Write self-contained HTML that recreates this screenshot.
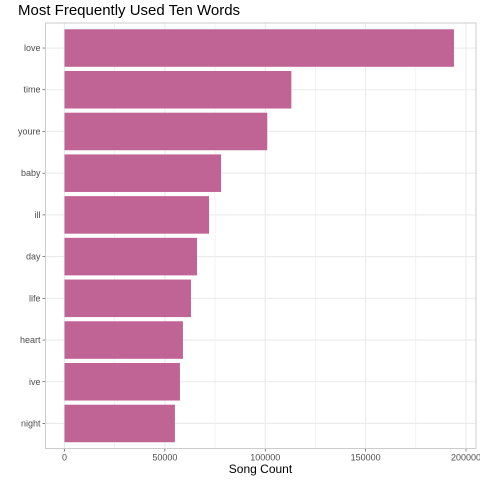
<!DOCTYPE html>
<html><head><style>body{margin:0;background:#fff}svg{font-family:"Liberation Sans",sans-serif}</style></head>
<body>
<svg id="c" width="480" height="480"></svg>
<script>
const categories=["love","time","youre","baby","ill","day","life","heart","ive","night"];
const counts=[194000,113000,101000,78000,72000,66000,63000,59000,57500,55000];
const ticks=[0,50000,100000,150000,200000];
const tickLabels=["0","50000","100000","150000","200000"];
const L=45.5,R=476,T=23,B=448.5;
const x=v=>64.5+v*(401.5/200000);
const step=(B-T)/(categories.length-1+1.2);
const y=i=>T+step*(0.6+i);
const svg=document.getElementById('c');const NS="http://www.w3.org/2000/svg";
function mk(t,a,p){const e=document.createElementNS(NS,t);for(const k in a)e.setAttribute(k,a[k]);(p||svg).appendChild(e);return e;}
const minor=[25000,75000,125000,175000];
minor.forEach(v=>{const l=mk('line',{x1:x(v),x2:x(v),y1:T,y2:B,stroke:'#ebebeb','stroke-width':0.6});});
ticks.forEach((v,i)=>{const l=mk('line',{x1:x(v),x2:x(v),y1:T,y2:B,stroke:'#ebebeb','stroke-width':1.1});
const tk=mk('line',{x1:x(v),x2:x(v),y1:B,y2:B+3,stroke:'#333','stroke-width':0.6});
const t=mk('text',{x:x(v),y:B+12,'font-size':9,fill:'#4d4d4d','text-anchor':'middle'});t.textContent=tickLabels[i];});
categories.forEach((c,i)=>{const l=mk('line',{x1:L,x2:R,y1:y(i),y2:y(i),stroke:'#ebebeb','stroke-width':1.1});});
categories.forEach((c,i)=>{const h=step*0.9;
const r=mk('rect',{x:x(0),y:y(i)-h/2,width:x(counts[i])-x(0),height:h,fill:'#c06395'});
const tk=mk('line',{x1:L-3,x2:L,y1:y(i),y2:y(i),stroke:'#333','stroke-width':0.6});
const t=mk('text',{x:L-5,y:y(i)+3,'font-size':9,fill:'#4d4d4d','text-anchor':'end'});t.textContent=c;});
const bd=mk('rect',{x:L,y:T,width:R-L,height:B-T,fill:'none',stroke:'#cccccc','stroke-width':1});
</script>
<div style="position:absolute;left:18px;top:2px;font:15px 'Liberation Sans',sans-serif;color:#000">Most Frequently Used Ten Words</div>
<div style="position:absolute;left:45px;width:431px;top:462px;text-align:center;font:12px 'Liberation Sans',sans-serif;color:#000">Song Count</div>
</body></html>
